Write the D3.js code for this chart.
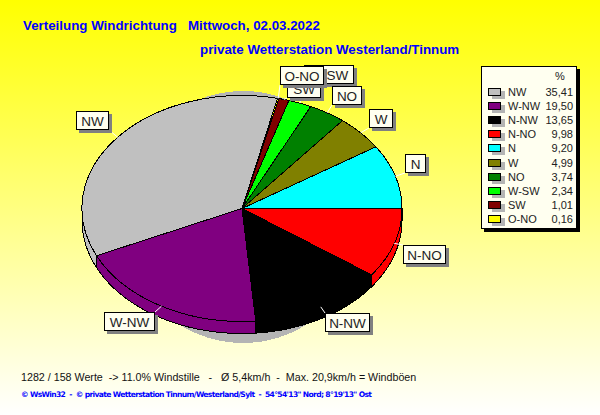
<!DOCTYPE html>
<html><head><meta charset="utf-8">
<script src="https://cdn.jsdelivr.net/npm/d3@7"></script>
<style>html,body{margin:0;padding:0;background:#fff}svg{display:block}text{font-family:"Liberation Sans",Arial,sans-serif}</style>
</head><body><svg id="c" width="600" height="415"></svg>
<script>
const categories=["NW","W-NW","N-NW","N-NO","N","W","NO","W-SW","SW","O-NO"];
const values=[35.41,19.50,13.65,9.98,9.20,4.99,3.74,2.34,1.01,0.16];
const valueLabels=["35,41","19,50","13,65","9,98","9,20","4,99","3,74","2,34","1,01","0,16"];
const colours=["#c0c0c0","#800080","#000000","#ff0000","#00ffff","#808000","#008000","#00ff00","#800000","#ffff00"];
const pieOrder=["N-NO","N-NW","W-NW","NW","O-NO","SW","W-SW","NO","W","N"];
const labelBoxes={NW:[76,111,33,19],"W-NW":[104,312,51,19],"N-NW":[325,313,45,19],"N-NO":[403,245,43,19],N:[405,154,21,19],W:[369,109,24,19],NO:[332,86,30,19],"W-SW":[304,65,50,19],SW:[287,79,34,19],"O-NO":[280,66,44,19]};
const labelDrawOrder=["W-SW","SW","NO","O-NO","W","N","N-NO","N-NW","W-NW","NW"];

const svg=d3.select("#c");
const defs=svg.append("defs");
const g=defs.append("linearGradient").attr("id","bg").attr("x1",0).attr("y1",0).attr("x2",0).attr("y2",1);
g.append("stop").attr("offset",0).attr("stop-color","#ffff00");
g.append("stop").attr("offset",1).attr("stop-color","#ffffff");
svg.append("rect").attr("width",600).attr("height",415).attr("fill","url(#bg)");

const cx=242,cy=208.5,rx=160,ry=113,depth=12;
const colorOf=d3.scaleOrdinal().domain(categories).range(colours);
const valueOf=new Map(categories.map((c,i)=>[c,values[i]]));
const pie=d3.pie().sort(null).value(d=>valueOf.get(d)).startAngle(Math.PI/2).endAngle(Math.PI*2.5);
const arcs=pie(pieOrder);
const px=a=>cx+rx*Math.sin(a), py=a=>cy-ry*Math.cos(a);
const crisp="crispEdges";

// shadow ellipse
svg.append("ellipse").attr("cx",243).attr("cy",217).attr("rx",122).attr("ry",126).attr("fill","#b4b4b4").attr("shape-rendering",crisp);

// side walls (front half only)
const frontLo=Math.PI/2, frontHi=Math.PI*1.5;
const line=d3.line();
arcs.forEach(d=>{
  const a0=Math.max(d.startAngle,frontLo),a1=Math.min(d.endAngle,frontHi);
  if(a1<=a0) return;
  const as=d3.range(0,61).map(i=>a0+(a1-a0)*i/60);
  const pts=as.map(a=>[px(a),py(a)]).concat(as.slice().reverse().map(a=>[px(a),py(a)+depth]));
  svg.append("path").attr("d",line(pts)+"Z").attr("fill",colorOf(d.data)).attr("stroke","#000").attr("stroke-width",1).attr("shape-rendering",crisp);
});
// top face
const arc=d3.arc().innerRadius(0).outerRadius(1);
svg.append("g").attr("transform",`translate(${cx},${cy}) scale(${rx},${ry})`)
 .selectAll("path").data(arcs).join("path").attr("d",arc)
 .attr("fill",d=>colorOf(d.data)).attr("stroke","#000").attr("stroke-width",1)
 .attr("vector-effect","non-scaling-stroke").attr("shape-rendering",crisp);

// leaders + labels
arcs.forEach(d=>{
  const b=labelBoxes[d.data],m=(d.startAngle+d.endAngle)/2;
  const x0=px(m),y0=py(m);
  const tx=Math.max(b[0],Math.min(b[0]+b[2],x0)),ty=Math.max(b[1],Math.min(b[1]+b[3],y0));
  svg.append("line").attr("x1",x0).attr("y1",y0).attr("x2",tx).attr("y2",ty).attr("stroke","#fff").attr("stroke-width",1);
});
labelDrawOrder.forEach(n=>{
  const b=labelBoxes[n];
  svg.append("rect").attr("x",b[0]+3).attr("y",b[1]+3).attr("width",b[2]).attr("height",b[3]).attr("fill","#808080");
  svg.append("rect").attr("x",b[0]+.5).attr("y",b[1]+.5).attr("width",b[2]-1).attr("height",b[3]-1).attr("fill","#fffff0").attr("stroke","#000");
  svg.append("text").attr("x",b[0]+b[2]/2).attr("y",b[1]+14.5).attr("text-anchor","middle").attr("font-size",13.5).attr("fill","#222").text(n);
});

// titles
const title=(t,x,y)=>svg.append("text").attr("x",x).attr("y",y).attr("font-size",13.33).attr("font-weight","bold").attr("fill","#0000ff").style("white-space","pre").text(t);
title("Verteilung Windrichtung   Mittwoch, 02.03.2022",23,30);
title("private Wetterstation Westerland/Tinnum",200,54);

// legend
const lx=481,ly=66,lw=96,lh=163;
svg.append("rect").attr("x",lx+3).attr("y",ly+3).attr("width",lw).attr("height",lh).attr("fill","#000");
svg.append("rect").attr("x",lx+.5).attr("y",ly+.5).attr("width",lw-1).attr("height",lh-1).attr("fill","#fffff0").attr("stroke","#000");
svg.append("text").attr("x",560).attr("y",80).attr("text-anchor","middle").attr("font-size",11).attr("fill","#222").text("%");
const rowY=d3.scalePoint().domain(categories).range([92,219]);
categories.forEach((c,i)=>{
  const y=Math.round(rowY(c));
  svg.append("rect").attr("x",492).attr("y",y-1).attr("width",13).attr("height",8).attr("fill","#b4b4b4");
  svg.append("rect").attr("x",488.5).attr("y",y-3.5).attr("width",12).attr("height",7).attr("fill",colours[i]).attr("stroke","#000");
  svg.append("text").attr("x",508).attr("y",y+4).attr("font-size",11).attr("fill","#222").text(c);
  svg.append("text").attr("x",573).attr("y",y+4).attr("text-anchor","end").attr("font-size",11).attr("fill","#222").text(valueLabels[i]);
});

// footers
svg.append("text").attr("x",21).attr("y",381).attr("font-size",10.7).attr("fill","#111").style("white-space","pre").text("1282 / 158 Werte  -> 11.0% Windstille   -   Ø 5,4km/h  -  Max. 20,9km/h = Windböen");
svg.append("text").attr("x",21).attr("y",397).attr("font-size",7.6).attr("fill","#0000ff").attr("textLength",351).attr("lengthAdjust","spacing").style("white-space","pre").style("font-family","'DejaVu Sans'").style("font-weight","bold").text("© WsWin32  -  © private Wetterstation Tinnum/Westerland/Sylt  -  54°54'13\" Nord; 8°19'13\" Ost");
</script></body></html>
